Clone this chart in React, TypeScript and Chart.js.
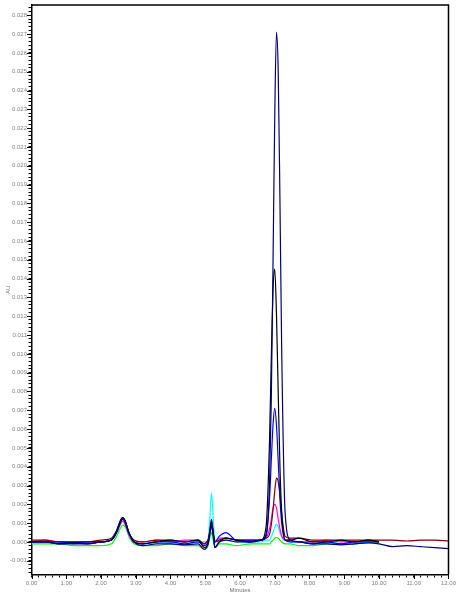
import React, { useEffect, useRef } from "react";
import { Chart, registerables } from "chart.js";

Chart.register(...registerables);

// Retention time (minutes), shared by all traces
const TIME = [
  0, 0.4, 0.8, 1.2, 1.6, 2.0,
  2.3, 2.45, 2.55, 2.62, 2.7, 2.8, 2.95,
  3.2, 3.6, 4.0, 4.4, 4.8,
  4.97, 5.08, 5.13, 5.18, 5.23, 5.28, 5.4, 5.6,
  5.9, 6.3, 6.6, 6.75, 6.85,
  6.9, 6.95, 7.0, 7.05, 7.1, 7.15, 7.2,
  7.3, 7.45, 7.7, 8.1, 8.5,
  8.9, 9.3, 9.7, 10.0,
  10.4, 10.8, 11.2, 11.6, 12.0,
];

const NAVY = [
  0.0, 0.0, -0.0001, -0.0001, -0.0001, 0.0,
  0.0001, 0.0005, 0.001, 0.00125, 0.0011, 0.0005, 0.0,
  -0.0002, -0.0001, -0.0001, -0.00015, -0.0001,
  -0.0004, -0.0001, 0.0004, 0.0009, 0.0003, -0.0003, 0.0, 0.0001,
  0.0, 0.0, 0.0001, 0.0003, 0.0031,
  0.0075, 0.0148, 0.0226, 0.0271, 0.025, 0.0181, 0.0102,
  0.0015, 0.0001, 0.0, -0.0001, -0.0001,
  -0.00015, -0.0001, -0.00005, -0.0001,
  -0.00025, -0.0002, -0.00025, -0.0003, -0.00035,
];

const BLACK = [
  0.0, 0.0, -0.0001, -0.00005, -0.0001, 0.0,
  0.0001, 0.0006, 0.0011, 0.0013, 0.0011, 0.0005, 0.0,
  -0.0001, 0.0, 0.0001, 0.0, 0.0001,
  -0.0003, -0.0001, 0.0005, 0.0011, 0.0005, -0.0003, 0.0, 0.0002,
  0.0001, 0.0, 0.0001, 0.0008, 0.0054,
  0.0097, 0.0134, 0.0145, 0.0121, 0.0079, 0.004, 0.0016,
  0.0001, 0.0001, 0.0002, 0.0, 0.0,
  0.0001, 0.0, 0.0001, 0.0,
  null, null, null, null, null,
];

const BLUE = [
  0.0, 0.0, 0.0, -0.00005, 0.0, 0.0,
  0.0001, 0.0006, 0.0011, 0.0013, 0.0011, 0.0005, 0.0,
  -0.0001, 0.0, 0.0, -0.0001, 0.0,
  -0.0002, 0.0, 0.0006, 0.0012, 0.0005, 0.0, 0.0003, 0.0005,
  0.0001, 0.0001, 0.0001, 0.0004, 0.0023,
  0.0043, 0.0062, 0.0071, 0.0062, 0.0043, 0.0023, 0.001,
  0.0001, 0.0, 0.0, -0.0001, 0.0,
  -0.0001, 0.0, 0.0, 0.0,
  null, null, null, null, null,
];

const DARKRED = [
  0.0001, 0.0001, 0.0, 0.0, 0.0, 0.0001,
  0.0002, 0.0006, 0.001, 0.0012, 0.001, 0.0005, 0.0001,
  0.0, 0.0001, 0.0001, 0.0, 0.0001,
  -0.0001, 0.0001, 0.0005, 0.0009, 0.0004, 0.0, 0.0001, 0.0002,
  0.0001, 0.0001, 0.0001, 0.0002, 0.0004,
  0.0009, 0.0017, 0.0027, 0.0034, 0.0032, 0.0025, 0.0015,
  0.0003, 0.0002, 0.0002, 0.0001, 0.0001,
  0.0001, 0.0001, 0.0001, 0.0001,
  0.0001, 0.00005, 0.0001, 0.0001, 0.00005,
];

const MAGENTA = [
  0.0, 0.0001, 0.0, 0.0, 0.0, 0.0,
  0.0001, 0.0005, 0.0009, 0.0011, 0.0009, 0.0004, 0.0,
  0.0, 0.0001, 0.0, 0.0001, 0.0001,
  -0.0001, 0.0001, 0.0005, 0.0008, 0.0004, 0.0, 0.0002, 0.0002,
  0.0001, 0.0, 0.0001, 0.0002, 0.0007,
  0.0012, 0.0018, 0.002, 0.0018, 0.0012, 0.0007, 0.0003,
  0.0001, 0.0001, 0.0, 0.0, 0.0001,
  0.0, 0.0, 0.0001, 0.0,
  null, null, null, null, null,
];

const CYAN = [
  -0.0001, 0.0, 0.0, -0.0001, 0.0, 0.0,
  0.0001, 0.0005, 0.001, 0.0012, 0.001, 0.0004, 0.0,
  -0.0001, 0.0, 0.0, 0.0, 0.0,
  0.0, 0.0001, 0.0012, 0.0026, 0.0012, 0.0001, 0.0, 0.0001,
  0.0, 0.0, 0.0, 0.0001, 0.0001,
  0.0003, 0.0005, 0.0008, 0.00095, 0.0008, 0.0005, 0.0003,
  0.0001, 0.0, 0.0, -0.0001, 0.0,
  -0.0001, -0.0001, 0.0, 0.0,
  null, null, null, null, null,
];

const GREEN = [
  -0.0001, -0.0001, -0.0001, -0.0002, -0.0002, -0.0002,
  -0.0001, 0.0003, 0.0007, 0.0009, 0.0008, 0.0003, -0.0001,
  -0.0002, -0.0002, -0.0001, -0.0002, -0.0002,
  -0.0004, -0.0002, 0.0002, 0.0005, 0.0001, -0.0003, -0.0001, -0.0001,
  -0.0002, -0.0001, -0.0001, -0.0001, -0.0001,
  0.0, 0.0001, 0.0002, 0.00025, 0.0002, 0.0001, 0.0,
  -0.0001, -0.0001, -0.0002, -0.0002, -0.0001,
  -0.0001, -0.0001, 0.0, 0.0,
  null, null, null, null, null,
];

const SERIES = [
  { name: "Trace 1", color: "#000080", values: NAVY },
  { name: "Trace 2", color: "#000000", values: BLACK },
  { name: "Trace 3", color: "#0000FF", values: BLUE },
  { name: "Trace 4", color: "#800000", values: DARKRED },
  { name: "Trace 5", color: "#FF00FF", values: MAGENTA },
  { name: "Trace 6", color: "#00FFFF", values: CYAN },
  { name: "Trace 7", color: "#00FF00", values: GREEN },
];

const X_MIN = 0;
const X_MAX = 12;
const Y_MIN = -0.00173;
const Y_MAX = 0.02854;

const framePlugin = {
  id: "frame",
  afterDraw(chart: any) {
    const { ctx, chartArea: a, scales } = chart;
    const xs = scales.x;
    const ys = scales.y;
    ctx.save();
    ctx.strokeStyle = "#000";
    ctx.lineWidth = 1.5;
    ctx.beginPath();
    ctx.moveTo(a.left, a.top);
    ctx.lineTo(a.right, a.top);
    ctx.lineTo(a.right, a.bottom);
    ctx.stroke();
    ctx.lineWidth = 1;
    ctx.beginPath();
    for (let v = X_MIN; v <= X_MAX; v++) {
      const px = Math.round(xs.getPixelForValue(v)) + 0.5;
      ctx.moveTo(px, a.bottom);
      ctx.lineTo(px, a.bottom + 4.5);
    }
    for (let k = -1; k <= 28; k++) {
      const py = Math.round(ys.getPixelForValue(k / 1000)) + 0.5;
      ctx.moveTo(a.left - 4.5, py);
      ctx.lineTo(a.left, py);
    }
    ctx.stroke();
    ctx.restore();
  },
};

export default function App() {
  const ref = useRef<HTMLCanvasElement | null>(null);

  useEffect(() => {
    if (!ref.current) return;
    const font = { family: "'Liberation Sans', Arial, sans-serif", size: 6 };
    const chart = new Chart(ref.current, {
      type: "line",
      data: {
        datasets: SERIES.map((s) => ({
          label: s.name,
          data: TIME.map((t, i) => ({ x: t, y: s.values[i] })).filter(
            (p) => p.y !== null && p.y !== undefined
          ) as any,
          borderColor: s.color,
          backgroundColor: s.color,
          borderWidth: 1.2,
          pointRadius: 0,
          cubicInterpolationMode: "monotone",
          fill: false,
        })),
      },
      plugins: [framePlugin],
      options: {
        animation: false,
        responsive: false,
        devicePixelRatio: 1,
        layout: { padding: { top: 2.5, right: 8, left: 0, bottom: 0 } },
        plugins: {
          legend: { display: false },
          tooltip: { enabled: false },
        },
        scales: {
          x: {
            type: "linear",
            min: X_MIN,
            max: X_MAX,
            afterFit: (scale: any) => {
              scale.height = 24.5;
            },
            border: { display: true, color: "#000", width: 1.5 },
            grid: {
              display: true,
              drawOnChartArea: false,
              drawTicks: true,
              tickLength: 3,
              tickColor: "#000",
            },
            ticks: {
              stepSize: 0.2,
              autoSkip: false,
              includeBounds: false,
              maxRotation: 0,
              padding: 2,
              color: "#808080",
              font,
              callback: (value: any) => {
                const v = Number(value);
                if (Math.abs(v - Math.round(v)) > 1e-6) return "";
                return Math.round(v).toFixed(2);
              },
            },
            title: {
              display: true,
              text: "Minutes",
              color: "#707070",
              font,
              padding: { top: 0, bottom: 5.4 },
            },
          },
          y: {
            type: "linear",
            min: Y_MIN,
            max: Y_MAX,
            afterFit: (scale: any) => {
              scale.width = 31.5;
            },
            border: { display: true, color: "#000", width: 1.5 },
            grid: {
              display: true,
              drawOnChartArea: false,
              drawTicks: true,
              tickLength: 3,
              tickColor: "#000",
            },
            ticks: {
              stepSize: 0.0002,
              autoSkip: false,
              includeBounds: false,
              padding: 1.5,
              color: "#808080",
              font,
              callback: (value: any) => {
                const k = Number(value) / 0.001;
                if (Math.abs(k - Math.round(k)) > 1e-6) return "";
                const r = Math.round(k) / 1000;
                return (r === 0 ? 0 : r).toFixed(3);
              },
            },
            title: {
              display: true,
              text: "AU",
              color: "#707070",
              font,
              padding: { top: 4.4, bottom: 0 },
            },
          },
        },
      },
    } as any);
    return () => chart.destroy();
  }, []);

  return (
    <div style={{ position: "fixed", left: 0, top: 0, width: 458, height: 599, background: "#fff" }}>
      <canvas ref={ref} width={458} height={599} style={{ display: "block" }} />
    </div>
  );
}
